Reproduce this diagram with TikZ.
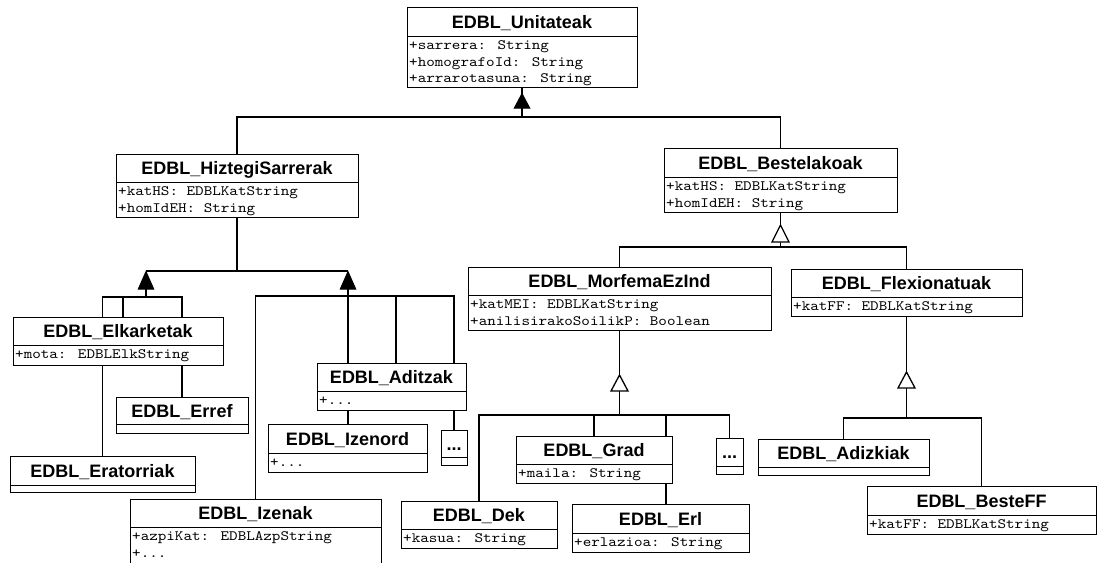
\documentclass[tikz,border=0pt]{standalone}
\usepackage{fontspec}
\newfontfamily\clsfont{Liberation Sans}
\newfontfamily\attrfont{lmmono10-regular.otf}[FakeStretch=1.14]

\pgfdeclarelayer{paper}
\pgfdeclarelayer{links}
\pgfsetlayers{paper,links,main}

% UML class box: name, left, top, right, separator, bottom, title, attributes
\newcommand\umlclass[8]{%
  \node[classbox, minimum width={#4-#2}, minimum height={#6-#3}] (#1) at (#2,#3) {};
  \draw (#2,#5) -- (#4,#5);
  \node[clstitle] at ({(#2+#4)/2},{(#3+#5)/2+6.5}) {#7};
  \node[clsattr] at (#2+2,#5+4.5) {\rule{0pt}{9pt}#8};
}
% generalisation heads: anchor giving x, coordinate giving apex y, height
\newcommand\headsolid[3]{\filldraw[genhead, fill=black] (#1 |- #2) -- ++(-7.5,#3) -- ++(15,0) -- cycle;}
\newcommand\headopen[3]{\filldraw[genhead, fill=white] (#1 |- #2) -- ++(-8.5,#3) -- ++(17,0) -- cycle;}

\begin{document}
\begin{tikzpicture}[x=1pt, y=-1pt, line width=1.3pt,
  classbox/.style={draw, fill=white, inner sep=0pt, outer sep=0pt, anchor=north west},
  clstitle/.style={font=\clsfont\bfseries\fontsize{18}{20}\selectfont, anchor=base, inner sep=0pt},
  clsattr/.style={font=\attrfont\fontsize{14.3}{16.5}\selectfont, anchor=north west, align=left, inner sep=0pt},
  link/.style={line width=1.3pt},
  genhead/.style={line width=1.3pt, line join=miter}]
\useasboundingbox (0,0) rectangle (1097,562);
\begin{pgfonlayer}{paper}
  \fill[white] (0,0) rectangle (1097,562);
\end{pgfonlayer}
\clip (0,0) rectangle (1097,562);

% ---- classes ----
\umlclass{unit}{407}{7}{637}{36}{87}{EDBL\_Unitateak}{+sarrera: String\\+homografoId: String\\+arrarotasuna: String}
\umlclass{hizt}{116}{154}{358}{182}{217}{EDBL\_HiztegiSarrerak}{+katHS: EDBLKatString\\+homIdEH: String}
\umlclass{beste}{664}{148}{897}{177}{212}{EDBL\_Bestelakoak}{+katHS: EDBLKatString\\+homIdEH: String}
\umlclass{elk}{13}{317}{223}{345}{365}{EDBL\_Elkarketak}{+mota: EDBLElkString}
\umlclass{erref}{116}{397}{248}{424}{433}{EDBL\_Erref}{}
\umlclass{erat}{10}{456}{195}{485}{492}{EDBL\_Eratorriak}{}
\umlclass{aditz}{317}{363}{466}{391}{410}{EDBL\_Aditzak}{+...}
\umlclass{izenord}{268}{424}{427}{453}{472}{EDBL\_Izenord}{+...}
\umlclass{dotsA}{441}{430}{467}{457}{465}{...}{}
\umlclass{izenak}{130}{499}{381}{527}{590}{EDBL\_Izenak}{+azpiKat: EDBLAzpString\\+...}
\umlclass{morf}{468}{267}{771}{295}{330}{EDBL\_MorfemaEzInd}{+katMEI: EDBLKatString\\+anilisirakoSoilikP: Boolean}
\umlclass{flex}{791}{269}{1022}{297}{316}{EDBL\_Flexionatuak}{+katFF: EDBLKatString}
\umlclass{grad}{516}{436}{672}{464}{483}{EDBL\_Grad}{+maila: String}
\umlclass{dotsB}{716}{438}{743}{466}{474}{...}{}
\umlclass{dek}{401}{501}{557}{529}{548}{EDBL\_Dek}{+kasua: String}
\umlclass{erl}{572}{504}{749}{533}{552}{EDBL\_Erl}{+erlazioa: String}
\umlclass{adizk}{758}{439}{929}{467}{475}{EDBL\_Adizkiak}{}
\umlclass{bestff}{867}{486}{1096}{515}{534}{EDBL\_BesteFF}{+katFF: EDBLKatString}

% ---- inheritance connectors, behind the class boxes ----
\begin{pgfonlayer}{links}
\begin{scope}[link]
% horizontal buses and heads
\coordinate (busA) at (0,117);
\coordinate (busB) at (0,271);
\coordinate (busC) at (0,247);
\coordinate (busD) at (0,415);
\coordinate (busE) at (0,418);
\coordinate (hdA) at (0,94);
\coordinate (hdB) at (0,272);
\coordinate (hdC) at (0,225);
\coordinate (hdD) at (0,375);
\coordinate (hdE) at (0,372);
% branch points
\coordinate (jElkHead) at (146,271);
\coordinate (jElkBase) at (146,289);
\coordinate (jElk) at (146,297);
\coordinate (jElkMid) at (123,297);
\coordinate (jAdHead) at (348,271);
\coordinate (jAdBase) at (348,289);
\coordinate (jAd) at (348,296);
\coordinate (jAdMid) at (396,296);
\coordinate (jErl) at (666,415);

% EDBL_Unitateak
\draw (unit.south) -- (unit.south |- busA);
\draw (hizt.north) |- (beste.north |- busA) -- (beste.north);
\headsolid{unit.south}{hdA}{14}

% EDBL_HiztegiSarrerak
\draw (hizt.south) -- (hizt.south |- busB);
\draw (jElkHead) -- (jAdHead);
\draw (jElkBase) -- (jElk);
\draw (erat.north) |- (erref.north |- jElk) -- (erref.north);
\draw (jElkMid) -- (jElkMid |- elk.north);
\draw (jAdBase) -- (jAdBase |- izenord.north);
\draw (izenak.north) |- (jAd) -| (dotsA.north);
\draw (jAdMid) -- (jAdMid |- aditz.north);
\headsolid{jElkHead}{hdB}{17}
\headsolid{jAdHead}{hdB}{17}

% EDBL_Bestelakoak
\draw (beste.south) -- (beste.south |- busC);
\draw (morf.north) |- (flex.north |- busC) -- (flex.north);
\headopen{beste.south}{hdC}{17}

% EDBL_MorfemaEzInd
\draw (morf.south) -- (morf.south |- busD);
\draw (dek.north) |- (dotsB.north |- busD) -- (dotsB.north);
\draw (grad.north) -- (grad.north |- busD);
\draw (jErl) -- (jErl |- erl.north);
\headopen{morf.south}{hdD}{16}

% EDBL_Flexionatuak
\draw (flex.south) -- (flex.south |- busE);
\draw (adizk.north) |- (bestff.north |- busE) -- (bestff.north);
\headopen{flex.south}{hdE}{16}
\end{scope}
\end{pgfonlayer}
\end{tikzpicture}
\end{document}
